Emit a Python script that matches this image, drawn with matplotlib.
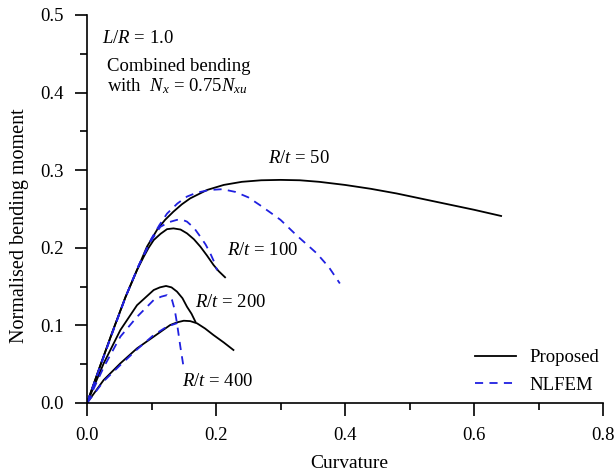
import matplotlib
matplotlib.use("Agg")
import matplotlib.pyplot as plt

plt.rcParams['font.family'] = ['Liberation Serif', 'DejaVu Serif']
plt.rcParams['mathtext.fontset'] = 'custom'
plt.rcParams['mathtext.rm'] = 'Liberation Serif'
plt.rcParams['mathtext.it'] = 'Liberation Serif:italic'

# Proposed (solid black)
p50_x = [0, 0.02, 0.04, 0.0594, 0.0775, 0.093, 0.1085, 0.121, 0.134, 0.147, 0.160, 0.186, 0.212, 0.24, 0.27,
         0.30, 0.33, 0.36, 0.40, 0.44, 0.48, 0.52, 0.56, 0.60, 0.642]
p50_y = [0, 0.047, 0.093, 0.136, 0.1714, 0.2015, 0.223, 0.236, 0.2466, 0.256, 0.2637, 0.2745, 0.281, 0.285, 0.287,
         0.2875, 0.287, 0.285, 0.281, 0.276, 0.270, 0.263, 0.256, 0.249, 0.241]
p100_x = [0, 0.02, 0.04, 0.0594, 0.0775, 0.088, 0.0955, 0.1034, 0.114, 0.124, 0.134, 0.145, 0.155, 0.1657,
          0.1757, 0.186, 0.196, 0.204, 0.214]
p100_y = [0, 0.047, 0.093, 0.136, 0.1714, 0.1886, 0.200, 0.210, 0.218, 0.224, 0.225, 0.2235, 0.2186, 0.211,
          0.2015, 0.190, 0.178, 0.170, 0.162]
p200_x = [0, 0.0258, 0.0517, 0.0775, 0.1034, 0.113, 0.1225, 0.131, 0.1395, 0.148, 0.155, 0.162, 0.168]
p200_y = [0, 0.051, 0.094, 0.126, 0.1456, 0.149, 0.1508, 0.149, 0.1435, 0.135, 0.124, 0.115, 0.1048]
p400_x = [0, 0.0258, 0.0517, 0.0775, 0.1034, 0.129, 0.14, 0.15, 0.16, 0.1705, 0.183, 0.196, 0.212, 0.227]
p400_y = [0, 0.0296, 0.0511, 0.0704, 0.0855, 0.1005, 0.104, 0.106, 0.1055, 0.1027, 0.096, 0.0876, 0.078, 0.0683]

# NLFEM (dashed blue)
f50_x = [0, 0.02, 0.04, 0.06, 0.08, 0.10, 0.112, 0.124, 0.14, 0.155, 0.17, 0.19, 0.21, 0.23, 0.25, 0.268,
         0.285, 0.30, 0.325, 0.356, 0.375, 0.392]
f50_y = [0, 0.046, 0.092, 0.137, 0.177, 0.212, 0.229, 0.244, 0.257, 0.266, 0.271, 0.2745, 0.2755, 0.272, 0.265,
         0.255, 0.245, 0.236, 0.216, 0.193, 0.175, 0.154]
f100_x = [0, 0.02, 0.04, 0.06, 0.08, 0.10, 0.1137, 0.127, 0.1395, 0.148, 0.155, 0.166, 0.1757, 0.184, 0.191,
          0.197, 0.2016]
f100_y = [0, 0.046, 0.092, 0.137, 0.177, 0.210, 0.227, 0.233, 0.236, 0.236, 0.2337, 0.2255, 0.2143, 0.204, 0.193,
          0.182, 0.171]
f200_x = [0, 0.0258, 0.0517, 0.0775, 0.1034, 0.115, 0.124, 0.1318, 0.136, 0.1395, 0.1447, 0.15]
f200_y = [0, 0.046, 0.0855, 0.111, 0.1327, 0.137, 0.139, 0.1327, 0.120, 0.1027, 0.0726, 0.0447]
f400_x = [0, 0.0258, 0.0517, 0.0775, 0.1034, 0.124, 0.14]
f400_y = [0, 0.028, 0.049, 0.069, 0.0876, 0.0984, 0.103]

BLUE = '#2020e0'
DASH = (0, (4.5, 3.5))

fig = plt.figure(figsize=(6.15, 4.74), dpi=100)
ax = fig.add_axes([0.1415, 0.1498, 0.839, 0.8186])

for x, y in [(p50_x, p50_y), (p100_x, p100_y), (p200_x, p200_y), (p400_x, p400_y)]:
    ax.plot(x, y, color='black', lw=1.3)
for x, y in [(f50_x, f50_y), (f100_x, f100_y), (f200_x, f200_y), (f400_x, f400_y)]:
    ax.plot(x, y, color=BLUE, lw=1.3, ls=DASH)

ax.plot([], [], color='black', lw=1.3, label='Proposed')
ax.plot([], [], color=BLUE, lw=1.3, ls=DASH, label='NLFEM')

ax.set_xlim(0, 0.8)
ax.set_ylim(0, 0.5)
ax.set_xticks([0, 0.2, 0.4, 0.6, 0.8])
ax.set_xticks([0.1, 0.3, 0.5, 0.7], minor=True)
ax.set_yticks([0, 0.1, 0.2, 0.3, 0.4, 0.5])
ax.set_yticks([0.05, 0.15, 0.25, 0.35, 0.45], minor=True)
ax.set_xticklabels(['0.0', '0.2', '0.4', '0.6', '0.8'])
ax.set_yticklabels(['0.0', '0.1', '0.2', '0.3', '0.4', '0.5'])
ax.tick_params(which='major', direction='out', length=9, width=1.2, labelsize=13.5, pad=8)
ax.tick_params(which='minor', direction='out', length=5, width=1.2)
for s in ['top', 'right']:
    ax.spines[s].set_visible(False)
for s in ['left', 'bottom']:
    ax.spines[s].set_linewidth(1.2)
ax.set_xlabel('Curvature', fontsize=14)
ax.set_ylabel('Normalised bending moment', fontsize=14.5)
ax.xaxis.set_label_coords(0.509, -0.135)
ax.yaxis.set_label_coords(-0.112, 0.456)

fs = 13.5
ax.text(0.281, 0.315, r'$R/t$ = 50', fontsize=fs, va='center')
ax.text(0.2165, 0.197, r'$R/t$ = 100', fontsize=fs, va='center')
ax.text(0.1674, 0.129, r'$R/t$ = 200', fontsize=fs, va='center')
ax.text(0.1468, 0.0275, r'$R/t$ = 400', fontsize=fs, va='center')

ax.text(0.0228, 0.470, r'$L/R$ = 1.0', fontsize=fs, va='center')
ax.text(0.0305, 0.433, 'Combined bending', fontsize=fs, va='center')
ax.text(0.0305, 0.408, r'with  $N_x$ = 0.75$N_{xu}$', fontsize=fs, va='center')

ax.legend(loc='lower right', bbox_to_anchor=(1.025, -0.02), frameon=False, fontsize=13.5,
          handlelength=2.2, handletextpad=0.7, labelspacing=0.55)

fig.savefig('out.png', dpi=100)
